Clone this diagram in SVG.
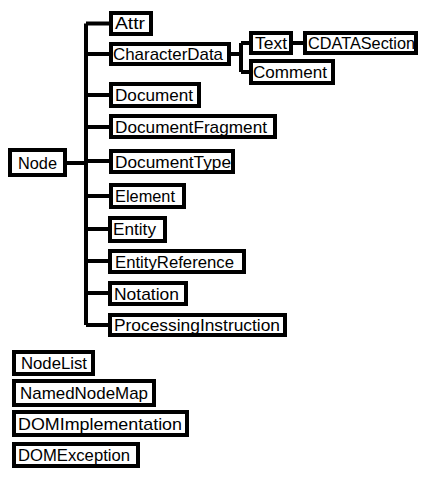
<svg xmlns="http://www.w3.org/2000/svg" width="430" height="480" viewBox="0 0 430 480">
<style>
.box{fill:#fff;stroke:#000;stroke-width:4}
.lbl{font-family:"Liberation Sans",Arial,sans-serif;font-size:17px;fill:#000}
.ln{fill:none;stroke:#000;stroke-width:4}
</style>
<rect width="430" height="480" fill="#fff"/>
<g id="connectors">
<path class="ln" d="M86 23.5 V325 M86 23.5 H109 M86 54 H109 M86 95 H109 M86 127 H109 M86 161 H109 M86 196 H109 M86 229 H108 M86 261 H108 M86 293 H108 M86 325 H108 M67 163 H86"/>
<path class="ln" d="M231 54 H241 M241 43 V72 M241 43 H249 M241 72 H249 M293 43 H303"/>
</g>
<g id="Node"><rect class="box" x="10" y="150" width="55" height="25"/><text class="lbl" x="18" y="169" textLength="39" lengthAdjust="spacingAndGlyphs">Node</text></g>
<g id="Attr"><rect class="box" x="111" y="13" width="40" height="21"/><text class="lbl" x="115" y="29" textLength="30" lengthAdjust="spacingAndGlyphs">Attr</text></g>
<g id="CharacterData"><rect class="box" x="111" y="44" width="118" height="20"/><text class="lbl" x="113" y="60" textLength="110" lengthAdjust="spacingAndGlyphs">CharacterData</text></g>
<g id="Text"><rect class="box" x="251" y="33" width="40" height="20"/><text class="lbl" x="255" y="49" textLength="32" lengthAdjust="spacingAndGlyphs">Text</text></g>
<g id="CDATASection"><rect class="box" x="305" y="33" width="111" height="20"/><text class="lbl" x="308" y="49" textLength="107" lengthAdjust="spacingAndGlyphs">CDATASection</text></g>
<g id="Comment"><rect class="box" x="251" y="61" width="82" height="22"/><text class="lbl" x="253" y="78" textLength="74" lengthAdjust="spacingAndGlyphs">Comment</text></g>
<g id="Document"><rect class="box" x="111" y="84" width="88" height="22"/><text class="lbl" x="115" y="101" textLength="78" lengthAdjust="spacingAndGlyphs">Document</text></g>
<g id="DocumentFragment"><rect class="box" x="111" y="116" width="164" height="21"/><text class="lbl" x="115" y="133" textLength="152" lengthAdjust="spacingAndGlyphs">DocumentFragment</text></g>
<g id="DocumentType"><rect class="box" x="111" y="151" width="122" height="21"/><text class="lbl" x="115" y="168" textLength="116" lengthAdjust="spacingAndGlyphs">DocumentType</text></g>
<g id="Element"><rect class="box" x="111" y="185" width="73" height="22"/><text class="lbl" x="115" y="202" textLength="60" lengthAdjust="spacingAndGlyphs">Element</text></g>
<g id="Entity"><rect class="box" x="110" y="218" width="55" height="23"/><text class="lbl" x="113" y="235" textLength="43" lengthAdjust="spacingAndGlyphs">Entity</text></g>
<g id="EntityReference"><rect class="box" x="110" y="251" width="134" height="21"/><text class="lbl" x="115" y="268" textLength="119" lengthAdjust="spacingAndGlyphs">EntityReference</text></g>
<g id="Notation"><rect class="box" x="110" y="283" width="76" height="21"/><text class="lbl" x="114" y="300" textLength="65" lengthAdjust="spacingAndGlyphs">Notation</text></g>
<g id="ProcessingInstruction"><rect class="box" x="110" y="315" width="175" height="20"/><text class="lbl" x="114" y="331" textLength="166" lengthAdjust="spacingAndGlyphs">ProcessingInstruction</text></g>
<g id="NodeList"><rect class="box" x="14" y="352" width="79" height="22"/><text class="lbl" x="21" y="369" textLength="66" lengthAdjust="spacingAndGlyphs">NodeList</text></g>
<g id="NamedNodeMap"><rect class="box" x="14" y="381" width="140" height="24"/><text class="lbl" x="20" y="399" textLength="128" lengthAdjust="spacingAndGlyphs">NamedNodeMap</text></g>
<g id="DOMImplementation"><rect class="box" x="14" y="412" width="173" height="23"/><text class="lbl" x="18" y="430" textLength="164" lengthAdjust="spacingAndGlyphs">DOMImplementation</text></g>
<g id="DOMException"><rect class="box" x="14" y="444" width="124" height="22"/><text class="lbl" x="18" y="461" textLength="112" lengthAdjust="spacingAndGlyphs">DOMException</text></g>
</svg>
